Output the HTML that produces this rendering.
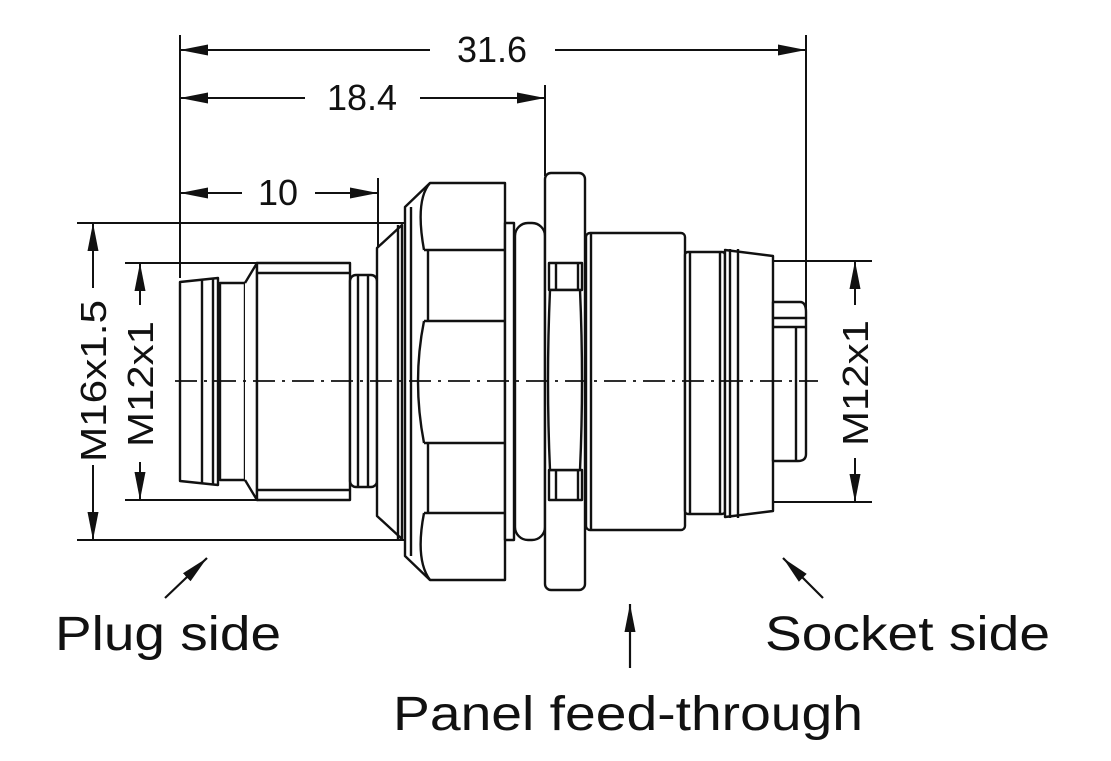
<!DOCTYPE html>
<html><head><meta charset="utf-8"><style>
html,body{margin:0;padding:0;background:#fff;}
svg{display:block;}
text{font-family:"Liberation Sans",sans-serif;fill:#111;}
</style></head><body>
<svg width="1111" height="761" viewBox="0 0 1111 761" xmlns="http://www.w3.org/2000/svg">
<defs>
<marker id="a" viewBox="0 0 28 12" refX="28" refY="6" markerWidth="28" markerHeight="12" markerUnits="userSpaceOnUse" orient="auto-start-reverse"><path d="M0,0.5 L28,6 L0,11.5 z" fill="#111"/></marker>
</defs>
<g stroke="#111" fill="none" stroke-width="2">
<line x1="180" y1="35" x2="180" y2="278"/>
<line x1="378" y1="178" x2="378" y2="268"/>
<line x1="545" y1="85" x2="545" y2="176"/>
<line x1="806" y1="35" x2="806" y2="312"/>
<line x1="180" y1="50" x2="430" y2="50" marker-start="url(#a)"/>
<line x1="555" y1="50" x2="806" y2="50" marker-end="url(#a)"/>
<line x1="180" y1="98" x2="305" y2="98" marker-start="url(#a)"/>
<line x1="420" y1="98" x2="545" y2="98" marker-end="url(#a)"/>
<line x1="180" y1="193" x2="242" y2="193" marker-start="url(#a)"/>
<line x1="315" y1="193" x2="378" y2="193" marker-end="url(#a)"/>
<line x1="77" y1="223" x2="405" y2="223"/>
<line x1="77" y1="540" x2="405" y2="540"/>
<line x1="125" y1="263" x2="257" y2="263"/>
<line x1="125" y1="500" x2="257" y2="500"/>
<line x1="93" y1="223" x2="93" y2="288" marker-start="url(#a)"/>
<line x1="93" y1="465" x2="93" y2="540" marker-end="url(#a)"/>
<line x1="140" y1="263" x2="140" y2="305" marker-start="url(#a)"/>
<line x1="140" y1="462" x2="140" y2="500" marker-end="url(#a)"/>
<line x1="757" y1="261" x2="872" y2="261"/>
<line x1="757" y1="502" x2="872" y2="502"/>
<line x1="855" y1="261" x2="855" y2="305" marker-start="url(#a)"/>
<line x1="855" y1="458" x2="855" y2="502" marker-end="url(#a)"/>
</g>
<g stroke="#111" fill="#fff" stroke-width="2.4" stroke-linejoin="round">
<path d="M180,282 L218,278 L218,485 L180,481 Z"/>
<line x1="202" y1="279" x2="202" y2="484"/>
<line x1="213" y1="278" x2="213" y2="485"/>
<rect x="220" y="283" width="25" height="197"/>
<path d="M245,283 L257,263 L257,500 L245,480"/>
<rect x="257" y="263" width="93" height="237"/>
<line x1="257" y1="273" x2="350" y2="273"/>
<line x1="257" y1="490" x2="350" y2="490"/>
<rect x="350" y="275" width="27" height="212" rx="6"/>
<line x1="358" y1="275" x2="358" y2="487"/>
<line x1="368" y1="275" x2="368" y2="487"/>
<path d="M377,248 L402,225 L402,539 L377,516 Z"/>
<line x1="398" y1="225" x2="398" y2="539"/>
<path d="M405,207 L430,183 L505,183 L505,580 L430,580 L405,556 Z"/>
<path d="M430,183 Q415,200 424,250 M424,321 Q412,381 424,443 M424,513 Q415,560 430,580" fill="none"/>
<line x1="424" y1="250" x2="505" y2="250"/>
<line x1="424" y1="321" x2="505" y2="321"/>
<line x1="424" y1="443" x2="505" y2="443"/>
<line x1="424" y1="513" x2="505" y2="513"/>
<line x1="428" y1="250" x2="428" y2="321"/><line x1="428" y1="443" x2="428" y2="513"/>
<line x1="411" y1="207" x2="411" y2="556"/>
<rect x="505" y="223" width="9" height="317"/>
<rect x="515" y="223" width="30" height="317" rx="13"/>
<rect x="586" y="233" width="99" height="297" rx="4"/>
<line x1="591" y1="233" x2="591" y2="530"/>
<rect x="685" y="252" width="40" height="262" rx="3"/>
<line x1="690" y1="252" x2="690" y2="514"/>
<line x1="720" y1="252" x2="720" y2="514"/>
<path d="M725,250 L773,256 L773,511 L725,517 Z"/>
<line x1="730" y1="249" x2="730" y2="518"/>
<line x1="738" y1="249" x2="738" y2="518"/>
<path d="M773,302 L800,302 Q806,302 806,312 L806,454 Q806,461 798,461 L773,461 Z"/>
<line x1="773" y1="318" x2="806" y2="318"/>
<line x1="773" y1="327" x2="806" y2="327"/>
<line x1="796" y1="327" x2="796" y2="461"/>
<rect x="545" y="173" width="40" height="417" rx="6"/>
<rect x="549" y="263" width="33" height="27"/>
<rect x="549" y="470" width="33" height="30"/>
<line x1="556" y1="263" x2="556" y2="290"/><line x1="556" y1="470" x2="556" y2="500"/>
<line x1="578" y1="263" x2="578" y2="290"/><line x1="578" y1="470" x2="578" y2="500"/>
<path d="M550,290 L580,290 Q584,381 580,470 L550,470 Q546,381 550,290 Z"/>
</g>
<line x1="175" y1="381" x2="818" y2="381" stroke="#111" stroke-width="1.8" stroke-dasharray="22,7,3,7"/>
<g stroke="#111" stroke-width="2.2" fill="none">
<line x1="165" y1="598" x2="207" y2="558" marker-end="url(#a)"/>
<line x1="823" y1="598" x2="783" y2="558" marker-end="url(#a)"/>
<line x1="630" y1="668" x2="630" y2="604" marker-end="url(#a)"/>
</g>
<text x="492" y="62" font-size="36" text-anchor="middle">31.6</text>
<text x="362" y="110" font-size="36" text-anchor="middle">18.4</text>
<text x="278" y="205" font-size="36" text-anchor="middle">10</text>
<text transform="translate(106,381) rotate(-90)" font-size="36" text-anchor="middle" textLength="162" lengthAdjust="spacingAndGlyphs">M16x1.5</text>
<text transform="translate(153,384) rotate(-90)" font-size="36" text-anchor="middle" textLength="126" lengthAdjust="spacingAndGlyphs">M12x1</text>
<text transform="translate(868,383) rotate(-90)" font-size="36" text-anchor="middle" textLength="126" lengthAdjust="spacingAndGlyphs">M12x1</text>
<text x="55" y="650" font-size="48" textLength="226" lengthAdjust="spacingAndGlyphs">Plug side</text>
<text x="765" y="650" font-size="48" textLength="285" lengthAdjust="spacingAndGlyphs">Socket side</text>
<text x="393" y="730" font-size="48" textLength="470" lengthAdjust="spacingAndGlyphs">Panel feed-through</text>
</svg>
</body></html>
